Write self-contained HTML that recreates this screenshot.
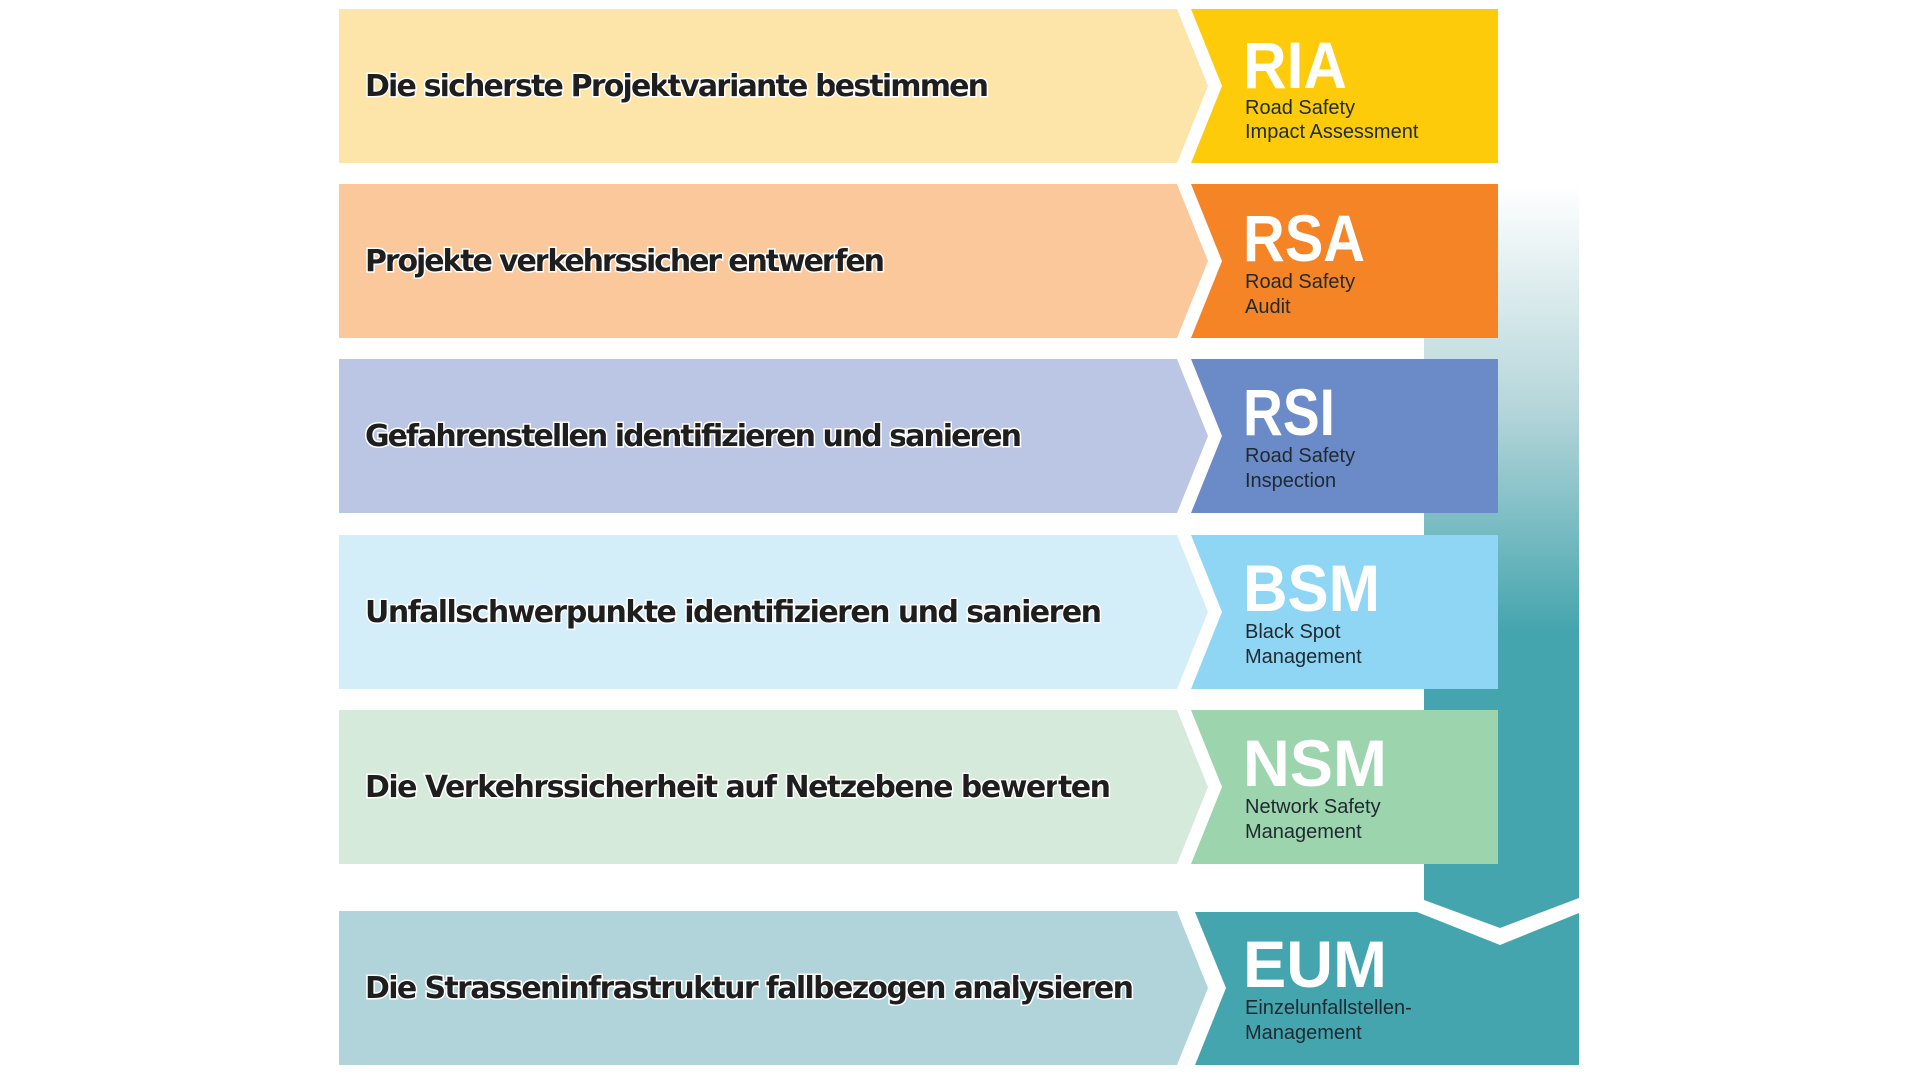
<!DOCTYPE html>
<html><head><meta charset="utf-8"><style>
html,body{margin:0;padding:0;background:#fff;}
svg{display:block;}
.m{font-family:"DejaVu Sans","Liberation Sans",sans-serif;font-weight:bold;font-size:30px;fill:#1e1e1e;stroke:#fff;stroke-width:3px;paint-order:stroke;}
.a{font-family:"Liberation Sans","DejaVu Sans",sans-serif;font-weight:bold;font-size:66px;fill:#fff;}
.s{font-family:"Liberation Sans","DejaVu Sans",sans-serif;font-size:20px;fill:#1e2a30;}
</style></head><body>
<svg width="1920" height="1080" viewBox="0 0 1920 1080" xmlns="http://www.w3.org/2000/svg">
<defs>
<linearGradient id="g" x1="0" y1="0" x2="0" y2="1">
<stop offset="0" stop-color="#ffffff"/>
<stop offset="0.3" stop-color="#b5d6da"/>
<stop offset="0.6" stop-color="#45a5ae"/>
<stop offset="1" stop-color="#45a5ae"/>
</linearGradient>
</defs>
<polygon points="1424,185 1579,185 1579,898 1500,928 1424,900" fill="url(#g)"/>

<!-- row1 -->
<polygon points="339,9 1177,9 1208,86 1177,163 339,163" fill="#fde4a8"/>
<polygon points="1191,9 1498,9 1498,163 1191,163 1222,86" fill="#fecb0a"/>
<text x="365" y="96" class="m" textLength="624">Die sicherste Projektvariante bestimmen</text>
<text x="1243" y="88" class="a" textLength="104" lengthAdjust="spacingAndGlyphs">RIA</text>
<text x="1245" y="114" class="s">Road Safety</text>
<text x="1245" y="138" class="s">Impact Assessment</text>

<!-- row2 -->
<polygon points="339,184 1177,184 1208,261 1177,338 339,338" fill="#fbc89c"/>
<polygon points="1191,184 1498,184 1498,338 1191,338 1222,261" fill="#f58426"/>
<text x="365" y="271" class="m" textLength="520">Projekte verkehrssicher entwerfen</text>
<text x="1243" y="261" class="a" textLength="122" lengthAdjust="spacingAndGlyphs">RSA</text>
<text x="1245" y="288" class="s">Road Safety</text>
<text x="1245" y="313" class="s">Audit</text>

<!-- row3 -->
<polygon points="339,359 1177,359 1208,436 1177,513 339,513" fill="#bac6e4"/>
<polygon points="1191,359 1498,359 1498,513 1191,513 1222,436" fill="#6b8bc8"/>
<text x="365" y="446" class="m" textLength="657">Gefahrenstellen identifizieren und sanieren</text>
<text x="1243" y="435" class="a" textLength="92" lengthAdjust="spacingAndGlyphs">RSI</text>
<text x="1245" y="462" class="s">Road Safety</text>
<text x="1245" y="487" class="s">Inspection</text>

<!-- row4 -->
<polygon points="339,535 1177,535 1208,612 1177,689 339,689" fill="#d3eef8"/>
<polygon points="1191,535 1498,535 1498,689 1191,689 1222,612" fill="#8fd6f4"/>
<text x="365" y="622" class="m" textLength="737">Unfallschwerpunkte identifizieren und sanieren</text>
<text x="1243" y="611" class="a" textLength="137" lengthAdjust="spacingAndGlyphs">BSM</text>
<text x="1245" y="638" class="s">Black Spot</text>
<text x="1245" y="663" class="s">Management</text>

<!-- row5 -->
<polygon points="339,710 1177,710 1208,787 1177,864 339,864" fill="#d5eadb"/>
<polygon points="1191,710 1498,710 1498,864 1191,864 1222,787" fill="#9cd4ad"/>
<text x="365" y="797" class="m" textLength="746">Die Verkehrssicherheit auf Netzebene bewerten</text>
<text x="1243" y="786" class="a" textLength="144" lengthAdjust="spacingAndGlyphs">NSM</text>
<text x="1245" y="813" class="s">Network Safety</text>
<text x="1245" y="838" class="s">Management</text>

<!-- row6 -->
<polygon points="339,911 1177,911 1208,988 1177,1065 339,1065" fill="#b0d4d9"/>
<polygon points="1195,912 1417,912 1500,945 1579,913 1579,1065 1195,1065 1226,988" fill="#45a5ae"/>
<text x="365" y="998" class="m" textLength="769">Die Strasseninfrastruktur fallbezogen analysieren</text>
<text x="1243" y="987" class="a" textLength="144" lengthAdjust="spacingAndGlyphs">EUM</text>
<text x="1245" y="1014" class="s">Einzelunfallstellen-</text>
<text x="1245" y="1039" class="s">Management</text>
</svg>
</body></html>
